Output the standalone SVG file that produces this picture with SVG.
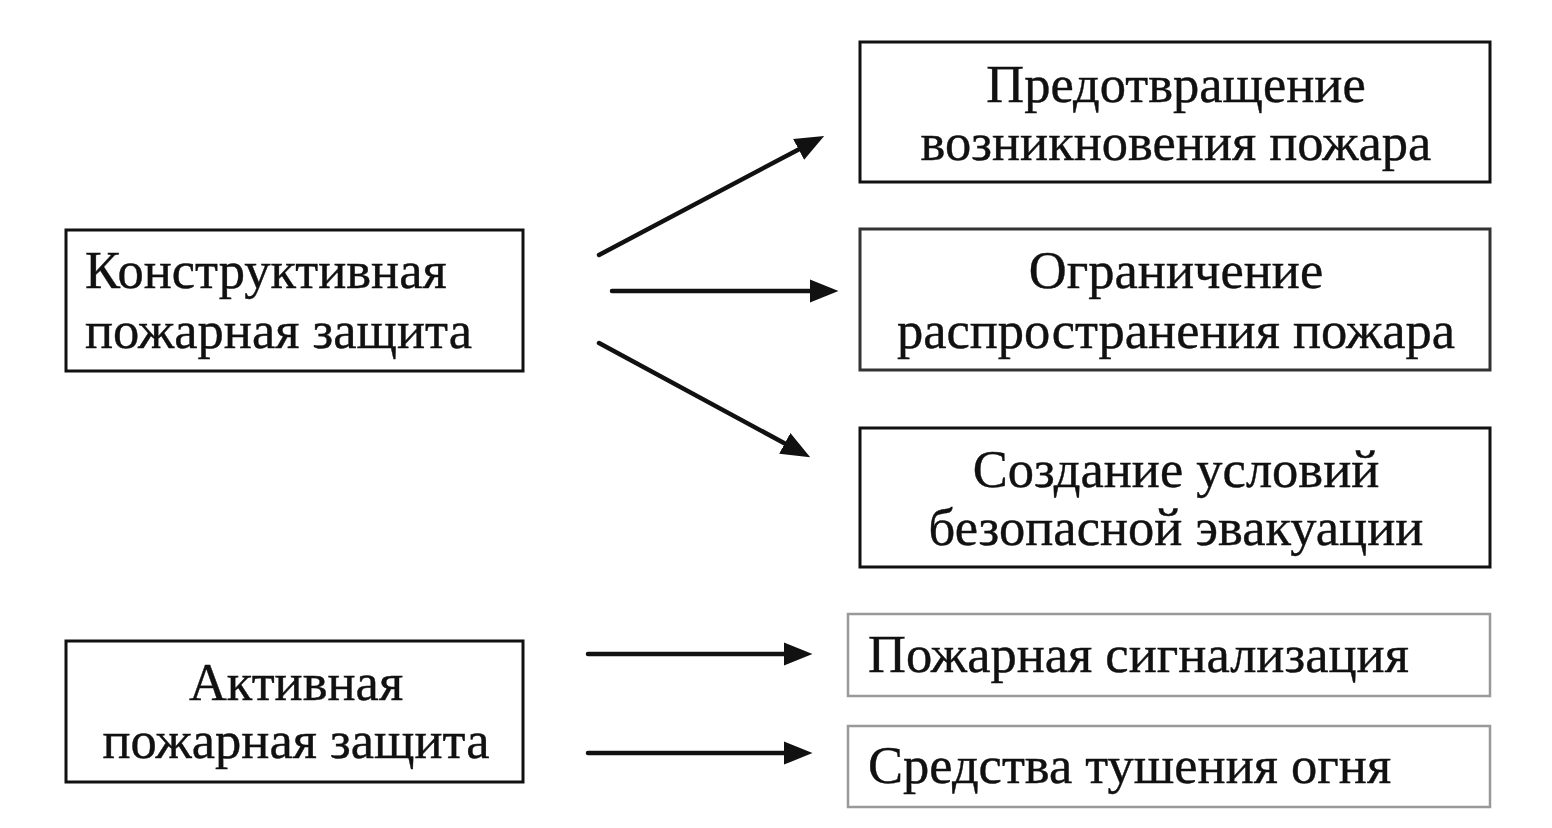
<svg xmlns="http://www.w3.org/2000/svg" width="1552" height="828" viewBox="0 0 1552 828">
<style>
.box{fill:#fff;stroke:#111;stroke-width:3}
.gbox{fill:#fff;stroke:#999;stroke-width:2.5}
.t{font-family:"Liberation Serif","Times New Roman",serif;font-size:52.5px;fill:#111;stroke:#111;stroke-width:0.4}
.c{text-anchor:middle}
.ln{stroke:#111;stroke-width:4.5;fill:none;stroke-linecap:round}
</style>
<defs>
<marker id="ah" markerUnits="userSpaceOnUse" markerWidth="30" markerHeight="26" refX="6" refY="11" orient="auto" viewBox="0 0 28 22">
<path d="M0,0 L27,11 L0,22 z" fill="#111"/>
</marker>
</defs>
<rect width="1552" height="828" fill="#fff"/>
<g id="n-constr">
<rect class="box" x="66" y="230" width="457" height="141"/>
<text class="t" x="85" y="288">Конструктивная</text>
<text class="t" x="85" y="348">пожарная защита</text>
</g>
<g id="n-active">
<rect class="box" x="66" y="641" width="457" height="141"/>
<text class="t c" x="296" y="700">Активная</text>
<text class="t c" x="296" y="758">пожарная защита</text>
</g>
<g id="n-prev">
<rect class="box" x="860" y="42" width="630" height="140"/>
<text class="t c" x="1176" y="102">Предотвращение</text>
<text class="t c" x="1176" y="160">возникновения пожара</text>
</g>
<g id="n-limit">
<rect class="box" x="860" y="229" width="630" height="141" style="stroke:#333"/>
<text class="t c" x="1176" y="288">Ограничение</text>
<text class="t c" x="1176" y="348">распространения пожара</text>
</g>
<g id="n-evac">
<rect class="box" x="860" y="428" width="630" height="139"/>
<text class="t c" x="1176" y="487">Создание условий</text>
<text class="t c" x="1176" y="545">безопасной эвакуации</text>
</g>
<g id="n-signal">
<rect class="gbox" x="848" y="614" width="642" height="82"/>
<text class="t" x="868" y="672">Пожарная сигнализация</text>
</g>
<g id="n-extinguish">
<rect class="gbox" x="848" y="726" width="642" height="81"/>
<text class="t" x="868" y="783">Средства тушения огня</text>
</g>
<g id="connectors">
<line class="ln" x1="599" y1="255" x2="804.3" y2="146.4" marker-end="url(#ah)"/>
<line class="ln" x1="612" y1="291" x2="816" y2="291" marker-end="url(#ah)"/>
<line class="ln" x1="599" y1="343" x2="790.4" y2="446.5" marker-end="url(#ah)"/>
<line class="ln" x1="588" y1="654" x2="790" y2="654" marker-end="url(#ah)"/>
<line class="ln" x1="588" y1="753" x2="790" y2="753" marker-end="url(#ah)"/>
</g>
</svg>
